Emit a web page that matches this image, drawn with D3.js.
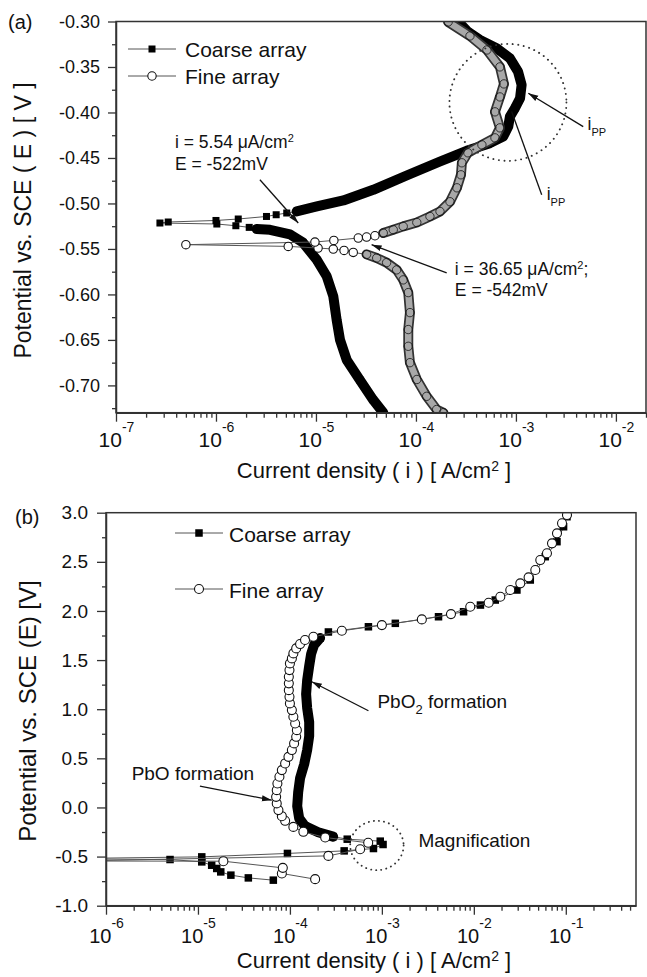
<!DOCTYPE html>
<html>
<head>
<meta charset="utf-8">
<script src="https://cdn.jsdelivr.net/npm/d3@7"></script>
<style>
  body { margin: 0; background: #fff; }
  svg { display: block; font-family: "Liberation Sans", Arial, sans-serif; }
</style>
</head>
<body>
<div id="chart"></div>
<script>
// Data points: [current density (A/cm2), potential (V vs SCE)], in sweep order

// (a) magnified view near the corrosion potential
const coarseACathodic = [
    [4.71e-5, -0.730], [3.74e-5, -0.716], [2.75e-5, -0.694], [2.03e-5, -0.672],
    [1.74e-5, -0.650], [1.61e-5, -0.628], [1.49e-5, -0.602], [1.28e-5, -0.580],
    [1.02e-5, -0.562], [7.41e-6, -0.543], [5.50e-6, -0.534], [3.47e-6, -0.529],
    [2.55e-6, -0.528]
];
const coarseATip = [
    [2.15e-6, -0.5263], [1.58e-6, -0.5245], [1.02e-6, -0.5226], [2.75e-7, -0.5215],
    [3.33e-7, -0.5204], [1.00e-6, -0.5187], [1.67e-6, -0.5171], [3.20e-6, -0.5143],
    [4.00e-6, -0.5124], [5.10e-6, -0.5105]
];
const coarseAAnodic = [
    [6.41e-6, -0.5088], [1.02e-5, -0.5033], [1.88e-5, -0.4967], [3.74e-5, -0.4850],
    [8.07e-5, -0.4693], [1.74e-4, -0.4539], [3.21e-4, -0.4421], [5.50e-4, -0.4337],
    [7.46e-4, -0.4265], [8.38e-4, -0.4155], [8.71e-4, -0.4045], [9.77e-4, -0.3953],
    [1.10e-3, -0.3843], [1.14e-3, -0.3697], [1.05e-3, -0.3551], [8.71e-4, -0.3404],
    [6.41e-4, -0.3294], [4.37e-4, -0.3203], [3.30e-4, -0.3112], [2.65e-4, -0.3002]
];
const fineACathodic = [
    [1.88e-4, -0.730], [1.61e-4, -0.7265], [1.28e-4, -0.712], [1.02e-4, -0.6935],
    [8.71e-5, -0.675], [8.38e-5, -0.657], [8.38e-5, -0.6386], [8.71e-5, -0.620],
    [8.38e-5, -0.598], [7.46e-5, -0.584], [6.41e-5, -0.573], [5.09e-5, -0.565],
    [4.05e-5, -0.560], [3.21e-5, -0.556]
];
const fineATip = [
    [2.36e-5, -0.5538], [1.91e-5, -0.5516], [1.49e-5, -0.5501], [1.05e-5, -0.5490],
    [5.28e-6, -0.5472], [5.00e-7, -0.5453], [9.77e-6, -0.5424], [1.51e-5, -0.5406],
    [2.65e-5, -0.5380], [3.21e-5, -0.5369], [3.89e-5, -0.5355]
];
const fineAAnodic = [
    [4.71e-5, -0.5325], [5.93e-5, -0.5289], [7.46e-5, -0.5252], [1.02e-4, -0.5209],
    [1.38e-4, -0.5143], [1.74e-4, -0.5088], [2.19e-4, -0.4981], [2.57e-4, -0.4828],
    [2.82e-4, -0.4685], [2.88e-4, -0.4553], [3.31e-4, -0.4443], [4.57e-4, -0.4356],
    [6.17e-4, -0.4279], [6.92e-4, -0.4169], [6.17e-4, -0.3993], [6.92e-4, -0.3829],
    [7.59e-4, -0.3686], [6.92e-4, -0.3499], [5.13e-4, -0.3313], [3.47e-4, -0.3159],
    [2.10e-4, -0.3005]
];

// (b) full sweep
const coarseBStart = [
    [6.60e-5, -0.740], [3.53e-5, -0.717], [2.28e-5, -0.689], [1.77e-5, -0.656],
    [1.60e-5, -0.621], [1.41e-5, -0.588], [1.10e-5, -0.554], [4.97e-6, -0.530],
    [2.75e-7, -0.522], [1.10e-5, -0.503], [9.40e-5, -0.468], [3.89e-4, -0.442],
    [8.10e-4, -0.418], [1.03e-3, -0.377], [9.60e-4, -0.343], [4.20e-4, -0.323]
];
const coarseBDense = [
    [2.95e-4, -0.297], [2.03e-4, -0.252], [1.46e-4, -0.190], [1.26e-4, -0.109],
    [1.20e-4, 0.013], [1.23e-4, 0.156], [1.29e-4, 0.299], [1.43e-4, 0.441],
    [1.54e-4, 0.584], [1.62e-4, 0.726], [1.62e-4, 0.869], [1.54e-4, 1.011],
    [1.50e-4, 1.154], [1.54e-4, 1.296], [1.62e-4, 1.439], [1.70e-4, 1.562],
    [1.83e-4, 1.653], [2.13e-4, 1.724]
];
const coarseBEnd = [
    [2.62e-4, 1.786], [7.14e-4, 1.839], [1.40e-3, 1.874], [4.13e-3, 1.941],
    [7.73e-3, 1.992], [1.18e-2, 2.060], [1.71e-2, 2.111], [2.94e-2, 2.213],
    [4.11e-2, 2.315], [5.98e-2, 2.552], [8.02e-2, 2.705], [9.46e-2, 2.857],
    [0.103, 2.959]
];
const fineBStart = [
    [1.88e-4, -0.730], [8.17e-5, -0.672], [8.37e-5, -0.615], [1.89e-5, -0.547],
    [5.00e-7, -0.545], [2.62e-4, -0.493], [5.80e-4, -0.425], [7.10e-4, -0.360],
    [2.42e-4, -0.306]
];
const fineBMiddle = [
    [1.40e-4, -0.248], [1.09e-4, -0.198], [8.87e-5, -0.136], [8.17e-5, -0.089],
    [7.50e-5, -0.027], [7.19e-5, 0.041], [7.08e-5, 0.108], [7.19e-5, 0.176],
    [7.31e-5, 0.244], [7.69e-5, 0.312], [8.17e-5, 0.380], [8.87e-5, 0.448],
    [9.64e-5, 0.515], [1.05e-4, 0.584], [1.11e-4, 0.652], [1.17e-4, 0.719],
    [1.19e-4, 0.787], [1.14e-4, 0.855], [1.09e-4, 0.923], [1.05e-4, 0.991],
    [1.00e-4, 1.059], [9.89e-5, 1.126], [9.73e-5, 1.194], [9.73e-5, 1.263],
    [9.73e-5, 1.330], [9.89e-5, 1.398], [1.00e-4, 1.466], [1.05e-4, 1.517],
    [1.09e-4, 1.568], [1.17e-4, 1.619], [1.29e-4, 1.663], [1.46e-4, 1.704],
    [1.80e-4, 1.737]
];
const fineBEnd = [
    [3.67e-4, 1.798], [1.00e-3, 1.856], [2.72e-3, 1.914], [5.64e-3, 1.968],
    [9.14e-3, 2.043], [1.45e-2, 2.083], [1.94e-2, 2.145], [2.49e-2, 2.213],
    [3.20e-2, 2.281], [3.94e-2, 2.342], [4.66e-2, 2.417], [5.28e-2, 2.518],
    [6.24e-2, 2.587], [7.08e-2, 2.688], [8.02e-2, 2.790], [9.10e-2, 2.892],
    [0.103, 2.977]
];

// Axis ticks
const xDecadesA = [-7, -6, -5, -4, -3, -2];
const yTicksA = [-0.70, -0.65, -0.60, -0.55, -0.50, -0.45, -0.40, -0.35, -0.30];
const xDecadesB = [-6, -5, -4, -3, -2, -1];
const yTicksB = [-1.0, -0.5, 0.0, 0.5, 1.0, 1.5, 2.0, 2.5, 3.0];
const seriesNames = ["Coarse array", "Fine array"];

const svg = d3.select("#chart").append("svg")
    .attr("width", 647)
    .attr("height", 977);

const defs = svg.append("defs");
defs.append("marker")
    .attr("id", "arrow")
    .attr("viewBox", "0 0 10 10")
    .attr("refX", 10).attr("refY", 5)
    .attr("markerWidth", 10).attr("markerHeight", 10)
    .attr("markerUnits", "userSpaceOnUse")
    .attr("orient", "auto")
  .append("path")
    .attr("d", "M0,2 L10,5 L0,8 z")
    .attr("fill", "#111");

function makePanel(p) {
    const x = d3.scaleLog().domain(p.xDomain).range([p.left, p.right]);
    const y = d3.scaleLinear().domain(p.yDomain).range([p.bottom, p.top]);
    defs.append("clipPath").attr("id", p.id).append("rect")
        .attr("x", p.left).attr("y", p.top)
        .attr("width", p.right - p.left).attr("height", p.bottom - p.top);
    const g = svg.append("g");
    const plot = g.append("g").attr("clip-path", `url(#${p.id})`);
    return { x, y, g, plot, p };
}

function drawAxes(P, o) {
    const p = P.p;
    // frame
    P.g.append("rect")
        .attr("x", p.left).attr("y", p.top)
        .attr("width", p.right - p.left).attr("height", p.bottom - p.top)
        .attr("fill", "none").attr("stroke", "#333").attr("stroke-width", 1.5);

    // x axis, major decades
    const gx = P.g.append("g")
        .attr("transform", `translate(0,${p.bottom})`)
        .call(d3.axisBottom(P.x)
            .tickValues(o.xDecades.map(e => Math.pow(10, e)))
            .tickSize(9).tickSizeOuter(0).tickFormat(() => ""));
    gx.selectAll(".tick").each(function(d) {
        const t = d3.select(this).append("text")
            .attr("y", o.xLabelY).attr("fill", "#111")
            .attr("text-anchor", "middle")
            .style("font-size", o.xFont + "px");
        t.append("tspan").text("10");
        t.append("tspan").attr("dy", o.expDy).style("font-size", "14px")
            .text(Math.round(Math.log10(d)));
    });

    // x minor ticks
    const minor = [];
    o.xDecades.forEach(e => d3.range(2, 10).forEach(m => {
        const v = m * Math.pow(10, e);
        if (v <= p.xDomain[1] * 1.0001) minor.push(v);
    }));
    P.g.append("g")
        .attr("transform", `translate(0,${p.bottom})`)
        .call(d3.axisBottom(P.x).tickValues(minor).tickSize(5).tickSizeOuter(0).tickFormat(() => ""))
        .select(".domain").remove();

    // y axis
    P.g.append("g")
        .attr("transform", `translate(${p.left},0)`)
        .call(d3.axisLeft(P.y)
            .tickValues(o.yTicks)
            .tickSize(o.yTick).tickPadding(o.yPad).tickSizeOuter(0)
            .tickFormat(d => d.toFixed(o.yDigits)))
        .selectAll("text")
        .attr("fill", "#111")
        .style("font-size", o.yFont + "px");

    const yMinor = o.yTicks.slice(0, -1).map((v, i) => (v + o.yTicks[i + 1]) / 2)
        .concat([o.yTicks[0] - (o.yTicks[1] - o.yTicks[0]) / 2])
        .filter(v => v >= p.yDomain[0]);
    P.g.append("g")
        .attr("transform", `translate(${p.left},0)`)
        .call(d3.axisLeft(P.y).tickValues(yMinor).tickSize(4).tickSizeOuter(0).tickFormat(() => ""))
        .select(".domain").remove();

    P.g.selectAll(".domain").attr("stroke", "#333").attr("stroke-width", 1.5);
    P.g.selectAll(".tick line").attr("stroke", "#333").attr("stroke-width", 1.3);
}

function drawSeries(P, parts, shape, size) {
    const line = d3.line().x(d => P.x(d[0])).y(d => P.y(d[1]));
    const all = [].concat(...parts.map(q => q.pts));

    // thin connecting line in measurement order
    P.plot.append("path")
        .datum(all)
        .attr("d", line)
        .attr("fill", "none")
        .attr("stroke", "#555")
        .attr("stroke-width", 1);

    parts.forEach(q => {
        if (q.band) {
            if (shape === "square") {
                P.plot.append("path").datum(q.pts).attr("d", line)
                    .attr("fill", "none").attr("stroke", "#000")
                    .attr("stroke-width", 10).attr("stroke-linejoin", "round").attr("stroke-linecap", "round");
            } else {
                P.plot.append("path").datum(q.pts).attr("d", line)
                    .attr("fill", "none").attr("stroke", "#333")
                    .attr("stroke-width", 10).attr("stroke-linejoin", "round").attr("stroke-linecap", "round");
                P.plot.append("path").datum(q.pts).attr("d", line)
                    .attr("fill", "none").attr("stroke", "#a8a8a8")
                    .attr("stroke-width", 6.5).attr("stroke-linejoin", "round").attr("stroke-linecap", "round");
            }
        }
        const sel = P.plot.append("g").selectAll("mark").data(q.pts).enter();
        if (shape === "square") {
            sel.append("rect")
                .attr("x", d => P.x(d[0]) - size / 2)
                .attr("y", d => P.y(d[1]) - size / 2)
                .attr("width", size).attr("height", size)
                .attr("fill", "#000");
        } else {
            sel.append("circle")
                .attr("cx", d => P.x(d[0]))
                .attr("cy", d => P.y(d[1]))
                .attr("r", size)
                .attr("fill", q.band ? "none" : "#fff")
                .attr("stroke", "#111")
                .attr("stroke-width", q.band ? 0.8 : 1.1);
        }
    });
}

function legend(P, x0, ys, textX, baseOff, size, r) {
    seriesNames.forEach((name, i) => {
        const y = ys[i];
        P.g.append("line")
            .attr("x1", x0).attr("x2", x0 + 48).attr("y1", y).attr("y2", y)
            .attr("stroke", "#555").attr("stroke-width", 1);
        if (i === 0) {
            P.g.append("rect")
                .attr("x", x0 + 24 - size / 2).attr("y", y - size / 2)
                .attr("width", size).attr("height", size).attr("fill", "#000");
        } else {
            P.g.append("circle")
                .attr("cx", x0 + 24).attr("cy", y).attr("r", r)
                .attr("fill", "#fff").attr("stroke", "#111").attr("stroke-width", 1.1);
        }
        P.g.append("text")
            .attr("x", textX).attr("y", y + baseOff)
            .style("font-size", "21px").attr("fill", "#111")
            .text(name);
    });
}

function arrow(P, from, to, head) {
    P.g.append("line")
        .attr("x1", P.x(from[0])).attr("y1", P.y(from[1]))
        .attr("x2", P.x(to[0])).attr("y2", P.y(to[1]))
        .attr("stroke", "#111").attr("stroke-width", 1.3)
        .attr("marker-end", head ? "url(#arrow)" : null);
}

// ---------------- Panel (a) ----------------
const A = makePanel({ id: "clipA", left: 116, right: 646, top: 21.5, bottom: 412.7,
    xDomain: [1e-7, 2e-2], yDomain: [-0.73, -0.30] });

drawSeries(A, [
    { pts: coarseACathodic, band: true },
    { pts: coarseATip, band: false },
    { pts: coarseAAnodic, band: true }
], "square", 7);
drawSeries(A, [
    { pts: fineACathodic, band: true },
    { pts: fineATip, band: false },
    { pts: fineAAnodic, band: true }
], "circle", 4.2);

drawAxes(A, { xDecades: xDecadesA, yTicks: yTicksA, xLabelY: 34, expDy: -15, xFont: 21,
    yTick: 8, yPad: 8, yDigits: 2, yFont: 18 });

legend(A, 128, [49, 76], 185, 7.5, 7, 4.2);

// annotations (a)
const noteA1 = A.g.append("text").attr("fill", "#111").style("font-size", "17.5px");
noteA1.append("tspan").attr("x", A.x(3.89e-7)).attr("y", A.y(-0.4389)).text("i = 5.54 \u03bcA/cm");
noteA1.append("tspan").attr("dy", -6).style("font-size", "11px").text("2");
A.g.append("text").attr("fill", "#111").style("font-size", "17.5px")
    .attr("x", A.x(3.89e-7)).attr("y", A.y(-0.463)).text("E = -522mV");
arrow(A, [2.75e-6, -0.474], [6.65e-6, -0.5215], true);

const noteA2 = A.g.append("text").attr("fill", "#111").style("font-size", "17.5px");
noteA2.append("tspan").attr("x", A.x(2.45e-4)).attr("y", A.y(-0.5783)).text("i = 36.65 \u03bcA/cm");
noteA2.append("tspan").attr("dy", -6).style("font-size", "11px").text("2");
noteA2.append("tspan").attr("dy", 6).text(";");
A.g.append("text").attr("fill", "#111").style("font-size", "17.5px")
    .attr("x", A.x(2.45e-4)).attr("y", A.y(-0.6013)).text("E = -542mV");
arrow(A, [2.03e-4, -0.5764], [3.6e-5, -0.5453], true);

A.g.append("circle")
    .attr("cx", A.x(8.32e-4)).attr("cy", A.y(-0.3889)).attr("r", 58.5)
    .attr("fill", "none").attr("stroke", "#333").attr("stroke-width", 1.9)
    .attr("stroke-dasharray", "0.1,5.5").attr("stroke-linecap", "round");

const ipp1 = A.g.append("text").attr("fill", "#111").style("font-size", "17.5px")
    .attr("x", A.x(5.21e-3)).attr("y", A.y(-0.4191));
ipp1.append("tspan").text("i");
ipp1.append("tspan").attr("dy", 6).style("font-size", "11px").text("PP");
arrow(A, [4.71e-3, -0.4155], [1.33e-3, -0.3788], true);

const ipp2 = A.g.append("text").attr("fill", "#111").style("font-size", "17.5px")
    .attr("x", A.x(2.03e-3)).attr("y", A.y(-0.4959));
ipp2.append("tspan").text("i");
ipp2.append("tspan").attr("dy", 6).style("font-size", "11px").text("PP");
arrow(A, [1.81e-3, -0.4905], [9.06e-4, -0.399], false);

svg.append("text").attr("x", 8).attr("y", 29).style("font-size", "20px").attr("fill", "#111").text("(a)");
svg.append("text")
    .attr("transform", "translate(31,220.5) rotate(-90)")
    .attr("text-anchor", "middle").style("font-size", "23px").attr("fill", "#111")
    .text("Potential vs. SCE ( E ) [ V ]");
const xtA = svg.append("text").attr("x", 374).attr("y", 478)
    .attr("text-anchor", "middle").style("font-size", "22px").attr("fill", "#111");
xtA.append("tspan").text("Current density ( i ) [ A/cm");
xtA.append("tspan").attr("dy", -7).style("font-size", "14px").text("2");
xtA.append("tspan").attr("dy", 7).text(" ]");

// ---------------- Panel (b) ----------------
const B = makePanel({ id: "clipB", left: 106, right: 636, top: 512.7, bottom: 905.7,
    xDomain: [1e-6, 0.58], yDomain: [-1.0, 3.0] });

drawSeries(B, [
    { pts: coarseBStart, band: false },
    { pts: coarseBDense, band: true },
    { pts: coarseBEnd, band: false }
], "square", 7.5);
drawSeries(B, [
    { pts: fineBStart, band: false },
    { pts: fineBMiddle, band: false },
    { pts: fineBEnd, band: false }
], "circle", 4.5);

drawAxes(B, { xDecades: xDecadesB, yTicks: yTicksB, xLabelY: 37, expDy: -15, xFont: 20,
    yTick: 9, yPad: 9, yDigits: 1, yFont: 19 });

legend(B, 175, [533, 589], 229, 8.5, 7.5, 4.5);

// annotations (b)
const pbo2 = B.g.append("text").attr("fill", "#111").style("font-size", "19px")
    .attr("x", B.x(8.95e-4)).attr("y", B.y(1.011));
pbo2.append("tspan").text("PbO");
pbo2.append("tspan").attr("dy", 6).style("font-size", "13px").text("2");
pbo2.append("tspan").attr("dy", -6).text(" formation");
arrow(B, [7.14e-4, 0.984], [1.73e-4, 1.279], true);

B.g.append("text").attr("fill", "#111").style("font-size", "19px")
    .attr("x", B.x(1.9e-6)).attr("y", B.y(0.278)).text("PbO formation");
arrow(B, [1.05e-5, 0.217], [6.35e-5, 0.074], true);

B.g.append("ellipse")
    .attr("cx", B.x(8.83e-4)).attr("cy", B.y(-0.387)).attr("rx", 26.7).attr("ry", 24.7)
    .attr("fill", "none").attr("stroke", "#333").attr("stroke-width", 1.9)
    .attr("stroke-dasharray", "0.1,5").attr("stroke-linecap", "round");
B.g.append("text").attr("fill", "#111").style("font-size", "19px")
    .attr("x", B.x(2.5e-3)).attr("y", B.y(-0.404)).text("Magnification");

svg.append("text").attr("x", 15).attr("y", 524).style("font-size", "20px").attr("fill", "#111").text("(b)");
svg.append("text")
    .attr("transform", "translate(36,711) rotate(-90)")
    .attr("text-anchor", "middle").style("font-size", "24px").attr("fill", "#111")
    .text("Potential vs. SCE (E) [V]");
const xtB = svg.append("text").attr("x", 374).attr("y", 968)
    .attr("text-anchor", "middle").style("font-size", "22px").attr("fill", "#111");
xtB.append("tspan").text("Current density ( i ) [ A/cm");
xtB.append("tspan").attr("dy", -7).style("font-size", "14px").text("2");
xtB.append("tspan").attr("dy", 7).text(" ]");
</script>
</body>
</html>
